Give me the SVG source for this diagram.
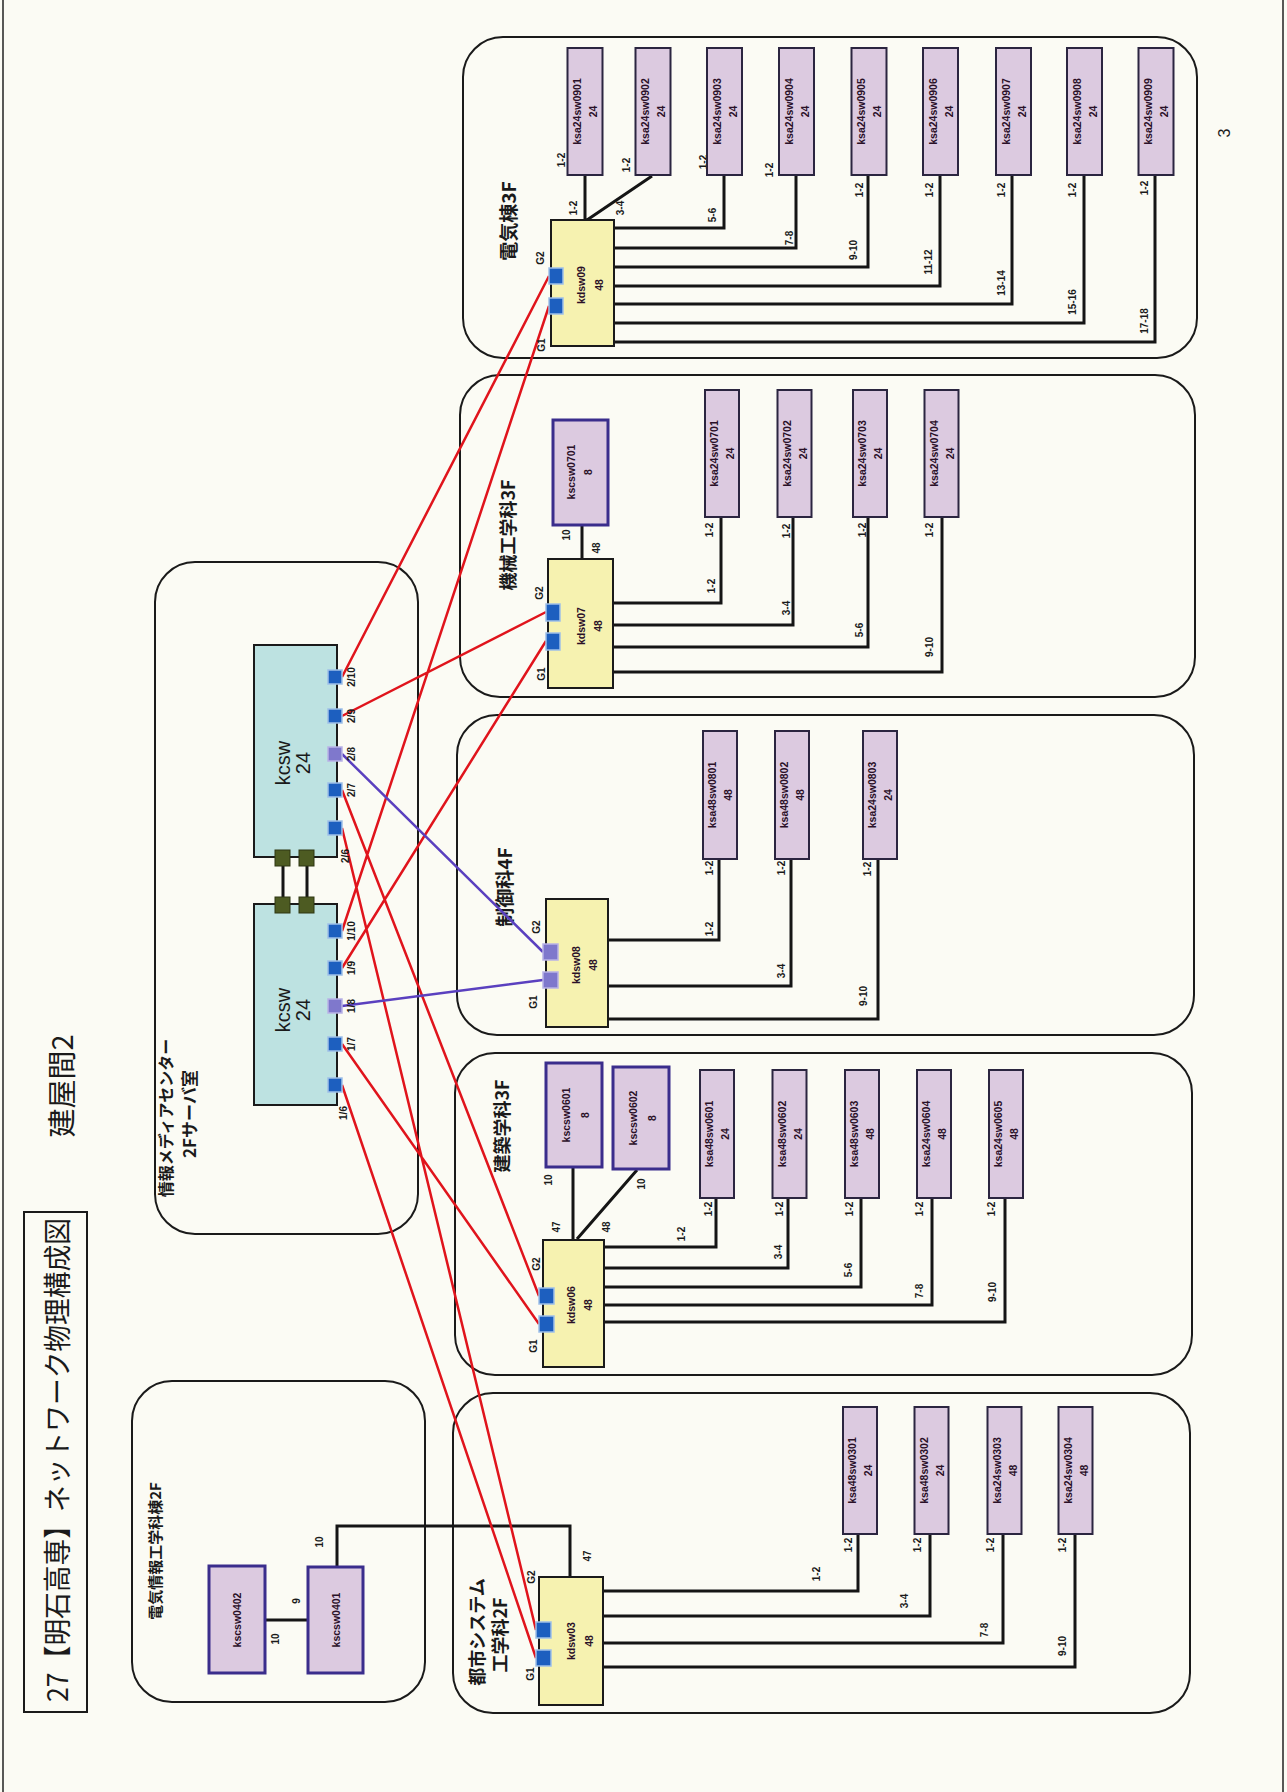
<svg xmlns="http://www.w3.org/2000/svg" width="1287" height="1792" viewBox="0 0 1287 1792">
<style>
.bf{fill:none;stroke:#1a1a1a;stroke-width:2}
.pe{fill:#dccae0;stroke:#2b2540;stroke-width:2}
.pk{fill:#dccae0;stroke:#3a2d8c;stroke-width:3}
.ys{fill:#f6f2b0;stroke:#1a1a1a;stroke-width:2}
.cs{fill:#bde2e1;stroke:#1a1a1a;stroke-width:2}
.pb{fill:#1d5fbf;stroke:#9fc0e8;stroke-width:1.5}
.pv{fill:#7f78cc;stroke:#b9b3e6;stroke-width:1.5}
.gs{fill:#4d5b22;stroke:#2e3612;stroke-width:1}
.ln{fill:none;stroke:#151515;stroke-width:3}
.rd{fill:none;stroke:#e0141c;stroke-width:2.5}
.pu{fill:none;stroke:#5a40bf;stroke-width:2.5}
text{font-family:"Liberation Sans","Noto Sans CJK JP",sans-serif;text-anchor:middle;dominant-baseline:central;fill:#1a1a1a}
.jp{font-family:"Noto Sans CJK JP",sans-serif;font-weight:bold}
.jn{font-family:"Noto Sans CJK JP",sans-serif;font-weight:normal}
.t{font-size:10px;font-weight:bold}
.n{font-size:10.5px;font-weight:bold;fill:#2a1028}
.k{font-size:20px}
</style>
<rect x="0" y="0" width="1287" height="1792" fill="#fbfbf4"/>
<line x1="3" y1="0" x2="3" y2="1792" stroke="#222" stroke-width="1.5"/>
<line x1="1283" y1="0" x2="1283" y2="1792" stroke="#222" stroke-width="1.5"/>

<g id="title">
<rect x="24" y="1212" width="63" height="500" fill="none" stroke="#1a1a1a" stroke-width="2"/>
<text class="jn" x="56" y="1460" font-size="28" textLength="484" lengthAdjust="spacingAndGlyphs" transform="rotate(-90 56 1460)">27【明石高専】ネットワーク物理構成図</text>
<text class="jn" x="60" y="1086" font-size="29" transform="rotate(-90 60 1086)">建屋間2</text>
<text x="1224" y="133" font-size="16" transform="rotate(-90 1224 133)">3</text>
</g>

<!-- building frames -->
<g id="bld-denki3f">
<rect class="bf" x="463" y="37" width="734" height="321" rx="40"/>
<text class="jp" x="507" y="221" font-size="19" transform="rotate(-90 507 221)">電気棟3F</text>
</g>
<g id="bld-kikai3f">
<rect class="bf" x="460" y="375" width="735" height="322" rx="40"/>
<text class="jp" x="507" y="535" font-size="18" transform="rotate(-90 507 535)">機械工学科3F</text>
</g>
<g id="bld-seigyo4f">
<rect class="bf" x="457" y="715" width="737" height="320" rx="40"/>
<text class="jp" x="503" y="887" font-size="19" transform="rotate(-90 503 887)">制御科4F</text>
</g>
<g id="bld-kenchiku3f">
<rect class="bf" x="455" y="1053" width="737" height="322" rx="40"/>
<text class="jp" x="501" y="1126" font-size="18" transform="rotate(-90 501 1126)">建築学科3F</text>
</g>
<g id="bld-toshi2f">
<rect class="bf" x="453" y="1393" width="737" height="320" rx="40"/>
<text class="jp" x="476" y="1632" font-size="18" transform="rotate(-90 476 1632)">都市システム</text>
<text class="jp" x="499" y="1635" font-size="18" transform="rotate(-90 499 1635)">工学科2F</text>
</g>
<g id="bld-media">
<rect class="bf" x="155" y="562" width="263" height="672" rx="40"/>
<text class="jp" x="165" y="1118" font-size="16" transform="rotate(-90 165 1118)">情報メディアセンター</text>
<text class="jp" x="188" y="1114" font-size="17" transform="rotate(-90 188 1114)">2Fサーバ室</text>
</g>
<g id="bld-denjo2f">
<rect class="bf" x="132" y="1381" width="293" height="321" rx="40"/>
<text class="jp" x="154" y="1551" font-size="15" transform="rotate(-90 154 1551)">電気情報工学科棟2F</text>
</g>

<!-- connectors -->
<g id="connectors">
<path class="ln" d="M585,175V220M652,176L587,220M724,175V228H614M796,175V248H614M868,175V267H614M940,175V286H614M1012,175V304H614M1084,175V323H614M1155,175V342H614"/>
<path class="ln" d="M582,525V559M721,517V603H613M793,517V625H613M868,517V647H613M942,517V672H613"/>
<path class="ln" d="M719,859V940H608M791,859V986H608M878,859V1019H608"/>
<path class="ln" d="M573,1167V1240M637,1170L577,1239M716,1198V1247H604M788,1198V1268H604M861,1198V1287H604M932,1198V1305H604M1005,1198V1322H604"/>
<path class="ln" d="M858,1534V1591H603M930,1534V1616H603M1003,1534V1643H603M1075,1534V1667H603"/>
<path class="ln" d="M570,1577V1526H337V1567M265,1620H308"/>
<path class="ln" d="M283,866V897M307,866V897"/>
<path class="rd" d="M342,677L549,276M342,931L549,306M342,716L546,612M342,968L546,641M342,790L539,1296M342,1044L539,1324M342,828L536,1630M342,1085L536,1658"/>
<path class="pu" d="M342,754L543,952M342,1006L543,980"/>
<!-- port labels -->
<g class="t">
<text x="561" y="160" transform="rotate(-90 561 160)">1-2</text>
<text x="626" y="165" transform="rotate(-90 626 165)">1-2</text>
<text x="703" y="162" transform="rotate(-90 703 162)">1-2</text>
<text x="769" y="170" transform="rotate(-90 769 170)">1-2</text>
<text x="859" y="190" transform="rotate(-90 859 190)">1-2</text>
<text x="929" y="190" transform="rotate(-90 929 190)">1-2</text>
<text x="1001" y="190" transform="rotate(-90 1001 190)">1-2</text>
<text x="1072" y="190" transform="rotate(-90 1072 190)">1-2</text>
<text x="1144" y="188" transform="rotate(-90 1144 188)">1-2</text>
<text x="573" y="208" transform="rotate(-90 573 208)">1-2</text>
<text x="620" y="208" transform="rotate(-90 620 208)">3-4</text>
<text x="712" y="215" transform="rotate(-90 712 215)">5-6</text>
<text x="789" y="238" transform="rotate(-90 789 238)">7-8</text>
<text x="853" y="250" transform="rotate(-90 853 250)">9-10</text>
<text x="928" y="262" transform="rotate(-90 928 262)">11-12</text>
<text x="1001" y="283" transform="rotate(-90 1001 283)">13-14</text>
<text x="1072" y="302" transform="rotate(-90 1072 302)">15-16</text>
<text x="1144" y="321" transform="rotate(-90 1144 321)">17-18</text>

<text x="566" y="535" transform="rotate(-90 566 535)">10</text>
<text x="596" y="548" transform="rotate(-90 596 548)">48</text>
<text x="709" y="530" transform="rotate(-90 709 530)">1-2</text>
<text x="786" y="531" transform="rotate(-90 786 531)">1-2</text>
<text x="862" y="530" transform="rotate(-90 862 530)">1-2</text>
<text x="929" y="530" transform="rotate(-90 929 530)">1-2</text>
<text x="711" y="586" transform="rotate(-90 711 586)">1-2</text>
<text x="786" y="608" transform="rotate(-90 786 608)">3-4</text>
<text x="859" y="630" transform="rotate(-90 859 630)">5-6</text>
<text x="929" y="647" transform="rotate(-90 929 647)">9-10</text>

<text x="709" y="868" transform="rotate(-90 709 868)">1-2</text>
<text x="781" y="868" transform="rotate(-90 781 868)">1-2</text>
<text x="867" y="869" transform="rotate(-90 867 869)">1-2</text>
<text x="709" y="929" transform="rotate(-90 709 929)">1-2</text>
<text x="781" y="971" transform="rotate(-90 781 971)">3-4</text>
<text x="863" y="996" transform="rotate(-90 863 996)">9-10</text>

<text x="548" y="1180" transform="rotate(-90 548 1180)">10</text>
<text x="556" y="1227" transform="rotate(-90 556 1227)">47</text>
<text x="641" y="1184" transform="rotate(-90 641 1184)">10</text>
<text x="606" y="1227" transform="rotate(-90 606 1227)">48</text>
<text x="708" y="1209" transform="rotate(-90 708 1209)">1-2</text>
<text x="779" y="1209" transform="rotate(-90 779 1209)">1-2</text>
<text x="849" y="1209" transform="rotate(-90 849 1209)">1-2</text>
<text x="919" y="1209" transform="rotate(-90 919 1209)">1-2</text>
<text x="991" y="1209" transform="rotate(-90 991 1209)">1-2</text>
<text x="681" y="1234" transform="rotate(-90 681 1234)">1-2</text>
<text x="778" y="1252" transform="rotate(-90 778 1252)">3-4</text>
<text x="848" y="1270" transform="rotate(-90 848 1270)">5-6</text>
<text x="919" y="1291" transform="rotate(-90 919 1291)">7-8</text>
<text x="992" y="1292" transform="rotate(-90 992 1292)">9-10</text>

<text x="848" y="1545" transform="rotate(-90 848 1545)">1-2</text>
<text x="917" y="1545" transform="rotate(-90 917 1545)">1-2</text>
<text x="990" y="1545" transform="rotate(-90 990 1545)">1-2</text>
<text x="1062" y="1545" transform="rotate(-90 1062 1545)">1-2</text>
<text x="816" y="1574" transform="rotate(-90 816 1574)">1-2</text>
<text x="904" y="1601" transform="rotate(-90 904 1601)">3-4</text>
<text x="984" y="1630" transform="rotate(-90 984 1630)">7-8</text>
<text x="1062" y="1646" transform="rotate(-90 1062 1646)">9-10</text>
<text x="587" y="1556" transform="rotate(-90 587 1556)">47</text>
<text x="319" y="1542" transform="rotate(-90 319 1542)">10</text>
<text x="275" y="1639" transform="rotate(-90 275 1639)">10</text>
<text x="296" y="1601" transform="rotate(-90 296 1601)">9</text>
</g>
</g>

<!-- 電気棟3F devices -->
<g id="kdsw09">
<rect class="ys" x="551" y="220" width="63" height="126"/>
<text class="n" x="581" y="285" transform="rotate(-90 581 285)">kdsw09</text>
<text class="n" x="599" y="285" transform="rotate(-90 599 285)">48</text>
<rect class="pb" x="549" y="268" width="14" height="16"/>
<rect class="pb" x="549" y="298" width="14" height="16"/>
<text class="t" x="540" y="258" transform="rotate(-90 540 258)">G2</text>
<text class="t" x="541" y="345" transform="rotate(-90 541 345)">G1</text>
</g>
<g id="ksa24sw0901"><rect class="pe" x="567.5" y="48" width="35" height="127"/><text class="n" x="577" y="111.5" transform="rotate(-90 577 111.5)">ksa24sw0901</text><text class="n" x="593" y="111.5" transform="rotate(-90 593 111.5)">24</text></g>
<g id="ksa24sw0902"><rect class="pe" x="635.5" y="48" width="35" height="127"/><text class="n" x="645" y="111.5" transform="rotate(-90 645 111.5)">ksa24sw0902</text><text class="n" x="661" y="111.5" transform="rotate(-90 661 111.5)">24</text></g>
<g id="ksa24sw0903"><rect class="pe" x="707" y="48" width="35" height="127"/><text class="n" x="716.5" y="111.5" transform="rotate(-90 716.5 111.5)">ksa24sw0903</text><text class="n" x="732.5" y="111.5" transform="rotate(-90 732.5 111.5)">24</text></g>
<g id="ksa24sw0904"><rect class="pe" x="779" y="48" width="35" height="127"/><text class="n" x="788.5" y="111.5" transform="rotate(-90 788.5 111.5)">ksa24sw0904</text><text class="n" x="804.5" y="111.5" transform="rotate(-90 804.5 111.5)">24</text></g>
<g id="ksa24sw0905"><rect class="pe" x="851.5" y="48" width="35" height="127"/><text class="n" x="861" y="111.5" transform="rotate(-90 861 111.5)">ksa24sw0905</text><text class="n" x="877" y="111.5" transform="rotate(-90 877 111.5)">24</text></g>
<g id="ksa24sw0906"><rect class="pe" x="923" y="48" width="35" height="127"/><text class="n" x="932.5" y="111.5" transform="rotate(-90 932.5 111.5)">ksa24sw0906</text><text class="n" x="948.5" y="111.5" transform="rotate(-90 948.5 111.5)">24</text></g>
<g id="ksa24sw0907"><rect class="pe" x="996" y="48" width="35" height="127"/><text class="n" x="1005.5" y="111.5" transform="rotate(-90 1005.5 111.5)">ksa24sw0907</text><text class="n" x="1021.5" y="111.5" transform="rotate(-90 1021.5 111.5)">24</text></g>
<g id="ksa24sw0908"><rect class="pe" x="1067" y="48" width="35" height="127"/><text class="n" x="1076.5" y="111.5" transform="rotate(-90 1076.5 111.5)">ksa24sw0908</text><text class="n" x="1092.5" y="111.5" transform="rotate(-90 1092.5 111.5)">24</text></g>
<g id="ksa24sw0909"><rect class="pe" x="1138.5" y="48" width="35" height="127"/><text class="n" x="1148" y="111.5" transform="rotate(-90 1148 111.5)">ksa24sw0909</text><text class="n" x="1164" y="111.5" transform="rotate(-90 1164 111.5)">24</text></g>

<!-- 機械工学科3F devices -->
<g id="kdsw07">
<rect class="ys" x="548" y="559" width="65" height="129"/>
<text class="n" x="581" y="626" transform="rotate(-90 581 626)">kdsw07</text>
<text class="n" x="598" y="626" transform="rotate(-90 598 626)">48</text>
<rect class="pb" x="546" y="604" width="14" height="17"/>
<rect class="pb" x="546" y="633" width="14" height="17"/>
<text class="t" x="539" y="593" transform="rotate(-90 539 593)">G2</text>
<text class="t" x="541" y="674" transform="rotate(-90 541 674)">G1</text>
</g>
<g id="kscsw0701"><rect class="pk" x="553" y="420" width="55" height="105"/><text class="n" x="571" y="472" transform="rotate(-90 571 472)">kscsw0701</text><text class="n" x="588" y="472" transform="rotate(-90 588 472)">8</text></g>
<g id="ksa24sw0701"><rect class="pe" x="705" y="390" width="34" height="127"/><text class="n" x="714" y="453.5" transform="rotate(-90 714 453.5)">ksa24sw0701</text><text class="n" x="730" y="453.5" transform="rotate(-90 730 453.5)">24</text></g>
<g id="ksa24sw0702"><rect class="pe" x="777.5" y="390" width="34" height="127"/><text class="n" x="786.5" y="453.5" transform="rotate(-90 786.5 453.5)">ksa24sw0702</text><text class="n" x="802.5" y="453.5" transform="rotate(-90 802.5 453.5)">24</text></g>
<g id="ksa24sw0703"><rect class="pe" x="853" y="390" width="34" height="127"/><text class="n" x="862" y="453.5" transform="rotate(-90 862 453.5)">ksa24sw0703</text><text class="n" x="878" y="453.5" transform="rotate(-90 878 453.5)">24</text></g>
<g id="ksa24sw0704"><rect class="pe" x="924.5" y="390" width="34" height="127"/><text class="n" x="933.5" y="453.5" transform="rotate(-90 933.5 453.5)">ksa24sw0704</text><text class="n" x="949.5" y="453.5" transform="rotate(-90 949.5 453.5)">24</text></g>

<!-- 制御科4F devices -->
<g id="kdsw08">
<rect class="ys" x="546" y="899" width="62" height="128"/>
<text class="n" x="576" y="965" transform="rotate(-90 576 965)">kdsw08</text>
<text class="n" x="593" y="965" transform="rotate(-90 593 965)">48</text>
<rect class="pv" x="543" y="944" width="15" height="16"/>
<rect class="pv" x="543" y="972" width="15" height="16"/>
<text class="t" x="536" y="927" transform="rotate(-90 536 927)">G2</text>
<text class="t" x="533" y="1002" transform="rotate(-90 533 1002)">G1</text>
</g>
<g id="ksa48sw0801"><rect class="pe" x="703" y="731" width="34" height="128"/><text class="n" x="712" y="795" transform="rotate(-90 712 795)">ksa48sw0801</text><text class="n" x="728" y="795" transform="rotate(-90 728 795)">48</text></g>
<g id="ksa48sw0802"><rect class="pe" x="775" y="731" width="34" height="128"/><text class="n" x="784" y="795" transform="rotate(-90 784 795)">ksa48sw0802</text><text class="n" x="800" y="795" transform="rotate(-90 800 795)">48</text></g>
<g id="ksa24sw0803"><rect class="pe" x="863" y="731" width="34" height="128"/><text class="n" x="872" y="795" transform="rotate(-90 872 795)">ksa24sw0803</text><text class="n" x="888" y="795" transform="rotate(-90 888 795)">24</text></g>

<!-- 建築学科3F devices -->
<g id="kdsw06">
<rect class="ys" x="543" y="1240" width="61" height="127"/>
<text class="n" x="571" y="1305" transform="rotate(-90 571 1305)">kdsw06</text>
<text class="n" x="588" y="1305" transform="rotate(-90 588 1305)">48</text>
<rect class="pb" x="539" y="1288" width="15" height="16"/>
<rect class="pb" x="539" y="1316" width="15" height="16"/>
<text class="t" x="536" y="1264" transform="rotate(-90 536 1264)">G2</text>
<text class="t" x="533" y="1346" transform="rotate(-90 533 1346)">G1</text>
</g>
<g id="kscsw0601"><rect class="pk" x="546" y="1063" width="56" height="104"/><text class="n" x="566" y="1115" transform="rotate(-90 566 1115)">kscsw0601</text><text class="n" x="585" y="1115" transform="rotate(-90 585 1115)">8</text></g>
<g id="kscsw0602"><rect class="pk" x="613" y="1067" width="56" height="102"/><text class="n" x="633" y="1118" transform="rotate(-90 633 1118)">kscsw0602</text><text class="n" x="652" y="1118" transform="rotate(-90 652 1118)">8</text></g>
<g id="ksa48sw0601"><rect class="pe" x="700" y="1070" width="34" height="128"/><text class="n" x="709" y="1134" transform="rotate(-90 709 1134)">ksa48sw0601</text><text class="n" x="725" y="1134" transform="rotate(-90 725 1134)">24</text></g>
<g id="ksa48sw0602"><rect class="pe" x="772.5" y="1070" width="34" height="128"/><text class="n" x="781.5" y="1134" transform="rotate(-90 781.5 1134)">ksa48sw0602</text><text class="n" x="797.5" y="1134" transform="rotate(-90 797.5 1134)">24</text></g>
<g id="ksa48sw0603"><rect class="pe" x="845" y="1070" width="34" height="128"/><text class="n" x="854" y="1134" transform="rotate(-90 854 1134)">ksa48sw0603</text><text class="n" x="870" y="1134" transform="rotate(-90 870 1134)">48</text></g>
<g id="ksa24sw0604"><rect class="pe" x="917" y="1070" width="34" height="128"/><text class="n" x="926" y="1134" transform="rotate(-90 926 1134)">ksa24sw0604</text><text class="n" x="942" y="1134" transform="rotate(-90 942 1134)">48</text></g>
<g id="ksa24sw0605"><rect class="pe" x="989" y="1070" width="34" height="128"/><text class="n" x="998" y="1134" transform="rotate(-90 998 1134)">ksa24sw0605</text><text class="n" x="1014" y="1134" transform="rotate(-90 1014 1134)">48</text></g>

<!-- 都市システム工学科2F devices -->
<g id="kdsw03">
<rect class="ys" x="539" y="1577" width="64" height="128"/>
<text class="n" x="571" y="1641" transform="rotate(-90 571 1641)">kdsw03</text>
<text class="n" x="589" y="1641" transform="rotate(-90 589 1641)">48</text>
<rect class="pb" x="536" y="1622" width="15" height="16"/>
<rect class="pb" x="536" y="1650" width="15" height="16"/>
<text class="t" x="531" y="1577" transform="rotate(-90 531 1577)">G2</text>
<text class="t" x="530" y="1674" transform="rotate(-90 530 1674)">G1</text>
</g>
<g id="ksa48sw0301"><rect class="pe" x="843" y="1407" width="34" height="127"/><text class="n" x="852" y="1470.5" transform="rotate(-90 852 1470.5)">ksa48sw0301</text><text class="n" x="868" y="1470.5" transform="rotate(-90 868 1470.5)">24</text></g>
<g id="ksa48sw0302"><rect class="pe" x="914.5" y="1407" width="34" height="127"/><text class="n" x="923.5" y="1470.5" transform="rotate(-90 923.5 1470.5)">ksa48sw0302</text><text class="n" x="939.5" y="1470.5" transform="rotate(-90 939.5 1470.5)">24</text></g>
<g id="ksa24sw0303"><rect class="pe" x="987.5" y="1407" width="34" height="127"/><text class="n" x="996.5" y="1470.5" transform="rotate(-90 996.5 1470.5)">ksa24sw0303</text><text class="n" x="1012.5" y="1470.5" transform="rotate(-90 1012.5 1470.5)">48</text></g>
<g id="ksa24sw0304"><rect class="pe" x="1058.5" y="1407" width="34" height="127"/><text class="n" x="1067.5" y="1470.5" transform="rotate(-90 1067.5 1470.5)">ksa24sw0304</text><text class="n" x="1083.5" y="1470.5" transform="rotate(-90 1083.5 1470.5)">48</text></g>

<!-- 電気情報工学科棟2F devices -->
<g id="kscsw0402"><rect class="pk" x="209" y="1566" width="56" height="107"/><text class="n" x="237" y="1620" transform="rotate(-90 237 1620)">kscsw0402</text></g>
<g id="kscsw0401"><rect class="pk" x="308" y="1567" width="55" height="106"/><text class="n" x="336" y="1620" transform="rotate(-90 336 1620)">kscsw0401</text></g>

<!-- core switches -->
<g id="kcsw-2">
<rect class="cs" x="254" y="645" width="83" height="212"/>
<text class="k" x="283" y="763" transform="rotate(-90 283 763)">kcsw</text>
<text class="k" x="303" y="763" transform="rotate(-90 303 763)">24</text>
<rect class="pb" x="328" y="670" width="14" height="14"/>
<rect class="pb" x="328" y="709" width="14" height="14"/>
<rect class="pv" x="328" y="747" width="14" height="14"/>
<rect class="pb" x="328" y="783" width="14" height="14"/>
<rect class="pb" x="328" y="821" width="14" height="14"/>
<rect class="gs" x="275" y="850" width="15" height="16"/>
<rect class="gs" x="299" y="850" width="15" height="16"/>
<g class="t">
<text x="351" y="677" transform="rotate(-90 351 677)">2/10</text>
<text x="351" y="716" transform="rotate(-90 351 716)">2/9</text>
<text x="351" y="754" transform="rotate(-90 351 754)">2/8</text>
<text x="351" y="790" transform="rotate(-90 351 790)">2/7</text>
<text x="345" y="856" transform="rotate(-90 345 856)">2/6</text>
</g>
</g>
<g id="kcsw-1">
<rect class="cs" x="254" y="904" width="83" height="201"/>
<text class="k" x="283" y="1010" transform="rotate(-90 283 1010)">kcsw</text>
<text class="k" x="303" y="1010" transform="rotate(-90 303 1010)">24</text>
<rect class="pb" x="328" y="924" width="14" height="14"/>
<rect class="pb" x="328" y="961" width="14" height="14"/>
<rect class="pv" x="328" y="999" width="14" height="14"/>
<rect class="pb" x="328" y="1037" width="14" height="14"/>
<rect class="pb" x="328" y="1078" width="14" height="14"/>
<rect class="gs" x="275" y="897" width="15" height="16"/>
<rect class="gs" x="299" y="897" width="15" height="16"/>
<g class="t">
<text x="351" y="931" transform="rotate(-90 351 931)">1/10</text>
<text x="351" y="968" transform="rotate(-90 351 968)">1/9</text>
<text x="351" y="1006" transform="rotate(-90 351 1006)">1/8</text>
<text x="351" y="1044" transform="rotate(-90 351 1044)">1/7</text>
<text x="343" y="1113" transform="rotate(-90 343 1113)">1/6</text>
</g>
</g>
</svg>
